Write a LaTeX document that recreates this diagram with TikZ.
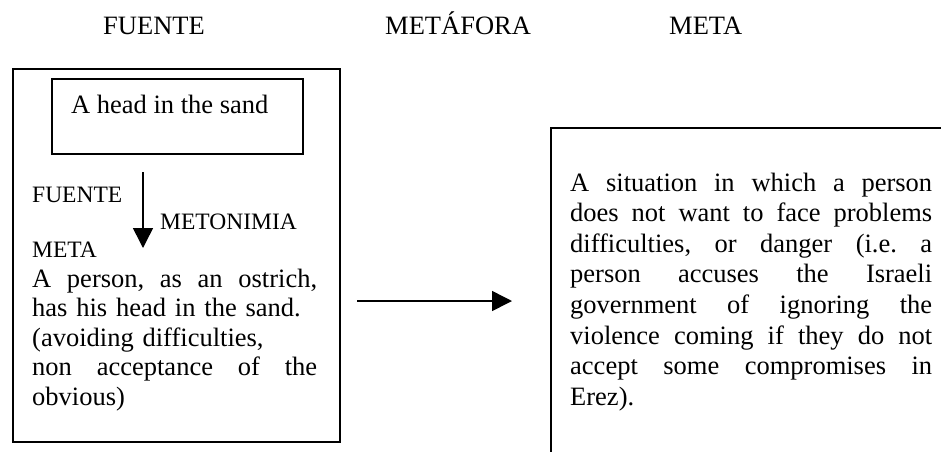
\documentclass[tikz,border=0pt]{standalone}
\usepackage{fontspec}
\setmainfont{Liberation Serif}
\usetikzlibrary{arrows.meta}
\frenchspacing
\newcommand{\jl}[2]{\leavevmode\hbox to #1{#2}}
\begin{document}
\begin{tikzpicture}[x=1pt,y=-1pt,
  boxline/.style={draw=black,line width=1.5pt,inner sep=0pt,anchor=north west},
  bigtext/.style={font=\fontsize{26.5}{30}\selectfont,inner sep=0pt,anchor=base west},
  smalltext/.style={font=\fontsize{23.5}{28}\selectfont,inner sep=0pt,anchor=base west},
  arr/.style={line width=1.5pt,-{Triangle[width=20pt,length=20pt]}}]
\useasboundingbox (0,0) rectangle (941,451);
% headers
\node[bigtext] (hsrc) at (103,34) {FUENTE};
\node[bigtext] (hmet) at (385,34) {METÁFORA};
\node[bigtext] (htgt) at (669,34) {META};
% left box
\node[boxline,minimum width=327pt,minimum height=373pt] (outer) at (12,68) {};
\node[boxline,minimum width=251pt,minimum height=75pt] (inner) at (51,78) {};
\node[bigtext] (headtxt) at (71,113) {A head in the sand};
\node[smalltext] (lsrc) at (32,202) {FUENTE};
\node[smalltext] (lmeto) at (160,229) {METONIMIA};
\node[smalltext] (ltgt) at (32,257) {META};
\coordinate (vtop) at (143,172);
\coordinate (vbot) at (143,248);
\draw[arr] (vtop) -- (vbot);
\node[bigtext,font=\fontsize{26.5}{29.5}\selectfont,text width=285pt] (ltext) at (32,287) {%
\jl{285pt}{A\hfill person,\hfill as\hfill an\hfill ostrich,}\\
has his head in the sand.\\
(avoiding difficulties,\\
\jl{285pt}{non\hfill acceptance\hfill of\hfill the}\\
obvious)};
% middle arrow
\coordinate (hstart) at (357,301);
\coordinate (hend) at (512,301);
\draw[arr] (hstart) -- (hend);
% right box
\node[boxline,minimum width=420pt,minimum height=400pt] (target) at (550,127) {};
\node[bigtext,font=\fontsize{26.5}{30.6}\selectfont,text width=362pt] (rtext) at (570,191) {%
\jl{362pt}{A\hfill situation\hfill in\hfill which\hfill a\hfill person}\\
\jl{362pt}{does\hfill not\hfill want\hfill to\hfill face\hfill problems}\\
\jl{362pt}{difficulties,\hfill or\hfill danger\hfill (i.e.\hfill a}\\
\jl{362pt}{person\hfill accuses\hfill the\hfill Israeli}\\
\jl{362pt}{government\hfill of\hfill ignoring\hfill the}\\
\jl{362pt}{violence\hfill coming\hfill if\hfill they\hfill do\hfill not}\\
\jl{362pt}{accept\hfill some\hfill compromises\hfill in}\\
Erez).};
\end{tikzpicture}
\end{document}
